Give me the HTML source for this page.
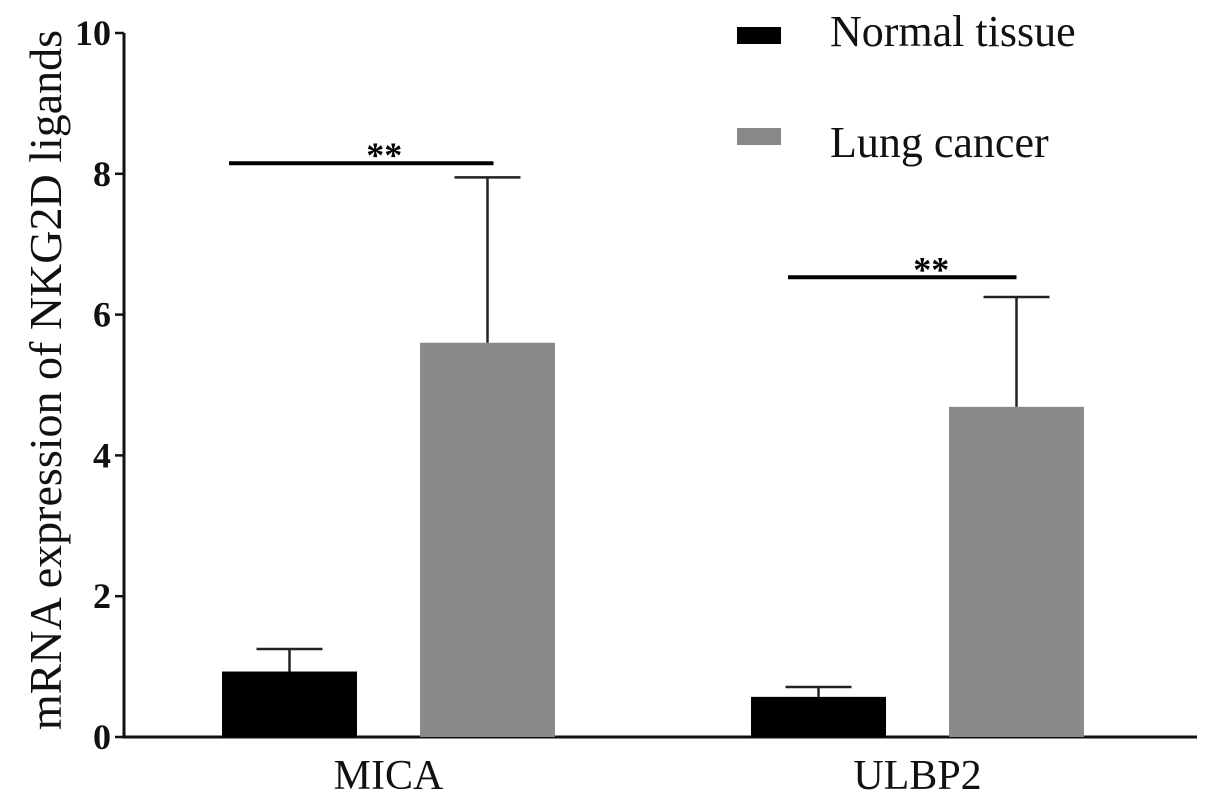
<!DOCTYPE html>
<html><head><meta charset="utf-8"><style>
html,body{margin:0;padding:0;background:#fff;}
svg{display:block;font-family:"Liberation Serif",serif;}
</style></head><body>
<svg id="chart" width="1205" height="810" viewBox="0 0 1205 810">
<g id="plot"></g>
<text transform="translate(61,380) rotate(-90)" text-anchor="middle" font-size="46" fill="#111">mRNA expression of NKG2D ligands</text>
<g>
<rect x="737" y="27" width="44" height="17" fill="#000"/>
<text x="830" y="46" font-size="44" fill="#111">Normal tissue</text>
<rect x="737" y="128" width="44" height="17" fill="#888"/>
<text x="830" y="157" font-size="44" fill="#111">Lung cancer</text>
</g>
</svg>
<script>
const categories = ["MICA", "ULBP2"];
const normalValues = [0.93, 0.57];
const normalErrors = [0.32, 0.14];
const cancerValues = [5.60, 4.69];
const cancerErrors = [2.35, 1.56];
const sigLevels = [8.15, 6.53];
const sigLabels = ["**", "**"];
const yTicks = [0, 2, 4, 6, 8, 10];

const NS = "http://www.w3.org/2000/svg";
const g = document.getElementById("plot");
const y0 = 737, pxPerUnit = 70.4;
function yScale(v){ return y0 - v * pxPerUnit; }
const groupStart = [222, 751];
const barW = 135, gap = 63;
function mk(tag, attrs){ const e = document.createElementNS(NS, tag); for (const k in attrs) e.setAttribute(k, attrs[k]); g.appendChild(e); return e; }

let ax = mk("line", {x1:124, y1:yScale(10), x2:124, y2:y0, stroke:"#111", "stroke-width":3});


let xa = mk("line", {x1:122, y1:y0, x2:1197, y2:y0, stroke:"#111", "stroke-width":3});


yTicks.forEach(t => {
  const tk = mk("line", {x1:115, y1:yScale(t), x2:124, y2:yScale(t), stroke:"#111", "stroke-width":2.5});
  
  
  const tl = mk("text", {x:111, y:yScale(t)+12, "text-anchor":"end", "font-size":36, "font-weight":"bold", fill:"#111"});
  tl.textContent = t;
  
  
});

function errBar(cx, v, e){
  const top = yScale(v + e);
  const l = mk("line", {x1:cx, y1:yScale(v), x2:cx, y2:top, stroke:"#222", "stroke-width":2.5});
  
  
  const c = mk("line", {x1:cx, y1:top, x2:cx+33, y2:top, stroke:"#222", "stroke-width":2.5});
  
  
  const c2 = mk("line", {x1:cx-33, y1:top, x2:cx, y2:top, stroke:"#222", "stroke-width":2.5});
  
  
}

categories.forEach((cat, i) => {
  const xN = groupStart[i], xC = xN + barW + gap;
  errBar(xN + barW/2, normalValues[i], normalErrors[i]);
  errBar(xC + barW/2, cancerValues[i], cancerErrors[i]);
  const bn = mk("rect", {x:xN, y:yScale(normalValues[i]), width:barW, height:y0 - yScale(normalValues[i]), fill:"#000"});
  
  
  const bc = mk("rect", {x:xC, y:yScale(cancerValues[i]), width:barW, height:y0 - yScale(cancerValues[i]), fill:"#8a8a8a"});
  
  
  const lab = mk("text", {x:xN + barW + gap/2, y:789, "text-anchor":"middle", "font-size":42, fill:"#111"});
  lab.textContent = cat;
  
  
  const sy = yScale(sigLevels[i]);
  const x1 = xN + (i === 0 ? 7 : 37), x2 = xC + barW/2 + (i === 0 ? 6 : 0);
  const sl = mk("line", {x1:x1, y1:sy, x2:x2, y2:sy, stroke:"#000", "stroke-width":4});
  
  
  const st = mk("text", {x:(x1 + x2)/2 + (i === 0 ? 23 : 29), y:sy + 4, "text-anchor":"middle", "font-size":36, "font-weight":"bold", fill:"#000"});
  st.textContent = sigLabels[i];
  
  
});
</script>
</body></html>
